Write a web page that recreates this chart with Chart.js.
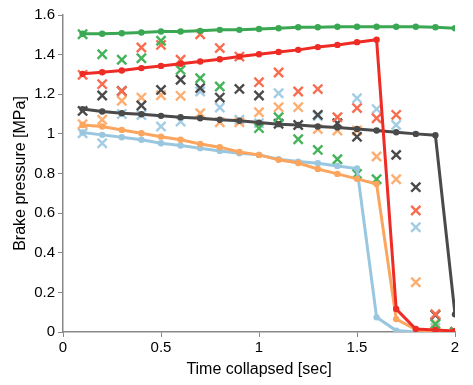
<!DOCTYPE html>
<html>
<head>
<meta charset="utf-8">
<script src="https://cdn.jsdelivr.net/npm/chart.js@4/dist/chart.umd.min.js"></script>
<style>
  html, body { margin: 0; padding: 0; background: #fff; }
  #wrap { width: 473px; height: 385px; }
</style>
</head>
<body>
<div id="wrap"><canvas id="brakeChart"></canvas></div>
<script>
// time axis, one sample per 0.1 sec
var times = [0.1,0.2,0.3,0.4,0.5,0.6,0.7,0.8,0.9,1.0,1.1,1.2,1.3,1.4,1.5,1.6,1.7,1.8,1.9,2.0];
var xTicks = [0, 0.5, 1, 1.5, 2];
var yTicks = [0, 0.2, 0.4, 0.6, 0.8, 1, 1.2, 1.4, 1.6];

// lines (with dots)
var greenLine  = [1.505,1.505,1.508,1.512,1.517,1.517,1.520,1.525,1.525,1.529,1.533,1.538,1.538,1.541,1.541,1.541,1.541,1.541,1.538,1.533];
var redLine    = [1.303,1.311,1.320,1.332,1.343,1.354,1.365,1.377,1.390,1.402,1.413,1.424,1.438,1.449,1.463,1.475,0.116,0.015,0.010,0.005];
var blackLine  = [1.125,1.113,1.104,1.099,1.091,1.084,1.079,1.071,1.066,1.057,1.049,1.045,1.037,1.032,1.025,1.017,1.008,1.000,0.993,0.089];
var orangeLine = [1.045,1.037,1.020,1.003,0.986,0.970,0.949,0.933,0.909,0.894,0.869,0.853,0.823,0.798,0.773,0.747,0.065,0.012,0.0,0.0];
var blueLine   = [1.007,0.995,0.983,0.970,0.953,0.941,0.928,0.914,0.902,0.894,0.872,0.860,0.852,0.838,0.825,0.074,0.007,0.0,null,null];

// measured points (crosses)
var greenX  = [1.503,1.402,1.374,1.382,1.470,1.323,1.281,1.239,null,1.029,1.084,0.973,0.919,0.872,0.798,0.771,null,null,0.039,0.0];
var redX    = [1.298,1.251,1.215,1.436,1.449,1.374,1.503,1.433,1.390,1.261,1.310,1.214,1.226,1.084,1.130,1.079,1.096,0.613,0.090,0.0];
var blackX  = [1.116,1.194,1.217,1.143,1.222,1.273,1.231,1.183,1.227,1.194,1.051,1.045,1.096,1.054,0.985,null,0.894,0.731,0.086,0.0];
var orangeX = [1.049,1.071,1.167,1.183,1.195,1.192,1.104,1.059,1.059,1.109,1.135,1.135,1.024,1.017,1.017,0.886,0.771,0.251,0.044,0.0];
var blueX   = [1.003,0.953,1.100,1.095,1.037,1.062,1.214,1.133,1.071,1.054,1.205,null,1.090,null,1.180,1.125,1.045,0.529,0.020,null];

function pts(vals) {
  var out = [];
  for (var i = 0; i < times.length; i++) {
    if (vals[i] !== null) out.push({x: times[i], y: vals[i]});
  }
  return out;
}

function lineSet(vals, color) {
  return {
    data: pts(vals),
    showLine: true,
    borderColor: color,
    backgroundColor: color,
    borderWidth: 3,
    pointRadius: 3.2,
    pointBorderWidth: 0,
    pointStyle: 'circle',
    order: 1
  };
}

function crossSet(vals, color) {
  return {
    data: pts(vals),
    showLine: false,
    borderColor: color,
    backgroundColor: color,
    pointStyle: 'crossRot',
    pointRadius: 6.5,
    pointBorderWidth: 2.4,
    order: 2
  };
}

var ctx = document.getElementById("brakeChart");
var brakeChart = new Chart(ctx, {
  type: 'scatter',
  data: {
    datasets: [
      crossSet(greenX, '#45b35a'),
      crossSet(redX, '#f86c50'),
      crossSet(blackX, '#4a4a4a'),
      crossSet(orangeX, '#fdae70'),
      crossSet(blueX, '#a3cde4'),
      lineSet(greenLine, '#3aa853'),
      lineSet(redLine, '#ee2b24'),
      lineSet(blackLine, '#4a4a4a'),
      lineSet(orangeLine, '#fca55f'),
      lineSet(blueLine, '#99c7e0')
    ]
  },
  options: {
    responsive: true,
    maintainAspectRatio: false,
    animation: false,
    layout: { padding: { top: 15, right: 18, left: 11, bottom: 6 } },
    plugins: {
      legend: { display: false },
      tooltip: { enabled: false }
    },
    scales: {
      x: {
        type: 'linear',
        min: 0, max: 2,
        afterBuildTicks: function(axis) { axis.ticks = xTicks.map(function(v) { return {value: v}; }); },
        afterFit: function(axis) { axis.height = 47; },
        ticks: {
          color: '#000',
          font: { family: 'Liberation Sans', size: 15 },
          padding: 2,
          maxRotation: 0,
          callback: function(v) { return String(v); }
        },
        grid: { display: true, drawOnChartArea: false, drawTicks: true, tickLength: 5, color: '#888' },
        border: { color: '#888', width: 1.5 },
        title: { display: true, text: 'Time collapsed [sec]', color: '#000', font: { family: 'Liberation Sans', size: 16 }, padding: { top: 0, bottom: 0 } }
      },
      y: {
        type: 'linear',
        min: 0, max: 1.6,
        afterBuildTicks: function(axis) { axis.ticks = yTicks.map(function(v) { return {value: v}; }); },
        afterFit: function(axis) { axis.width = 52; },
        ticks: {
          color: '#000',
          font: { family: 'Liberation Sans', size: 15 },
          padding: 3,
          callback: function(v) { return String(Math.round(v * 10) / 10); }
        },
        grid: { display: true, drawOnChartArea: false, drawTicks: true, tickLength: 5, color: '#888' },
        border: { color: '#888', width: 1.5 },
        title: { display: true, text: 'Brake pressure [MPa]', color: '#000', font: { family: 'Liberation Sans', size: 16 }, padding: { top: 0, bottom: 0 } }
      }
    }
  }
});
</script>
</body>
</html>
